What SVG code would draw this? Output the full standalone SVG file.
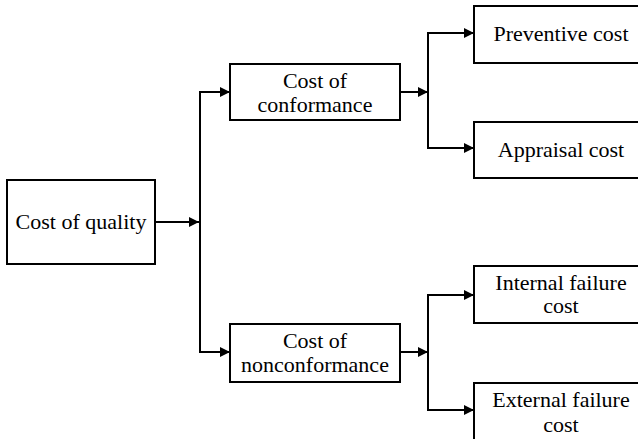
<svg xmlns="http://www.w3.org/2000/svg" width="638" height="439" viewBox="0 0 638 439">
  <style>
    .box { fill: #fff; stroke: #000; stroke-width: 2; }
    .lbl { font-family: "Liberation Serif", "DejaVu Serif", serif; font-size: 22px; fill: #000; text-anchor: middle; }
    .wire { fill: none; stroke: #000; stroke-width: 2; }
  </style>
  <defs>
    <marker id="arrow" viewBox="0 0 10 10" refX="10" refY="5" markerWidth="10" markerHeight="10" markerUnits="userSpaceOnUse" orient="auto">
      <path d="M0,0 L10,5 L0,10 Z" fill="#000"/>
    </marker>
  </defs>

  <g id="connectors">
    <line class="wire" x1="155" y1="222" x2="199" y2="222" marker-end="url(#arrow)"/>
    <polyline class="wire" points="230,92 200,92 200,352 230,352"/>
    <line class="wire" x1="200" y1="92" x2="230" y2="92" marker-end="url(#arrow)"/>
    <line class="wire" x1="200" y1="352" x2="230" y2="352" marker-end="url(#arrow)"/>
    <line class="wire" x1="400" y1="92" x2="428" y2="92" marker-end="url(#arrow)"/>
    <line class="wire" x1="400" y1="352" x2="428" y2="352" marker-end="url(#arrow)"/>
    <polyline class="wire" points="474,33 428,33 428,148 474,148"/>
    <line class="wire" x1="428" y1="33" x2="474" y2="33" marker-end="url(#arrow)"/>
    <line class="wire" x1="428" y1="148" x2="474" y2="148" marker-end="url(#arrow)"/>
    <polyline class="wire" points="474,295 428,295 428,410 474,410"/>
    <line class="wire" x1="428" y1="295" x2="474" y2="295" marker-end="url(#arrow)"/>
    <line class="wire" x1="428" y1="410" x2="474" y2="410" marker-end="url(#arrow)"/>
  </g>

  <g id="cost-of-quality">
    <rect class="box" x="7" y="180" width="148" height="84"/>
    <text class="lbl" x="81" y="229">Cost of quality</text>
  </g>

  <g id="cost-of-conformance">
    <rect class="box" x="230" y="64" width="170" height="56"/>
    <text class="lbl" x="315" y="88">Cost of</text>
    <text class="lbl" x="315" y="112">conformance</text>
  </g>

  <g id="cost-of-nonconformance">
    <rect class="box" x="230" y="324" width="170" height="58"/>
    <text class="lbl" x="315" y="348">Cost of</text>
    <text class="lbl" x="315" y="372">nonconformance</text>
  </g>

  <g id="preventive-cost">
    <rect class="box" x="474" y="6" width="174" height="57"/>
    <text class="lbl" x="561" y="41">Preventive cost</text>
  </g>

  <g id="appraisal-cost">
    <rect class="box" x="474" y="122" width="174" height="56"/>
    <text class="lbl" x="561" y="157">Appraisal cost</text>
  </g>

  <g id="internal-failure-cost">
    <rect class="box" x="474" y="266" width="174" height="57"/>
    <text class="lbl" x="561" y="290">Internal failure</text>
    <text class="lbl" x="561" y="313">cost</text>
  </g>

  <g id="external-failure-cost">
    <rect class="box" x="474" y="383" width="174" height="66"/>
    <text class="lbl" x="561" y="407">External failure</text>
    <text class="lbl" x="561" y="432">cost</text>
  </g>
</svg>
